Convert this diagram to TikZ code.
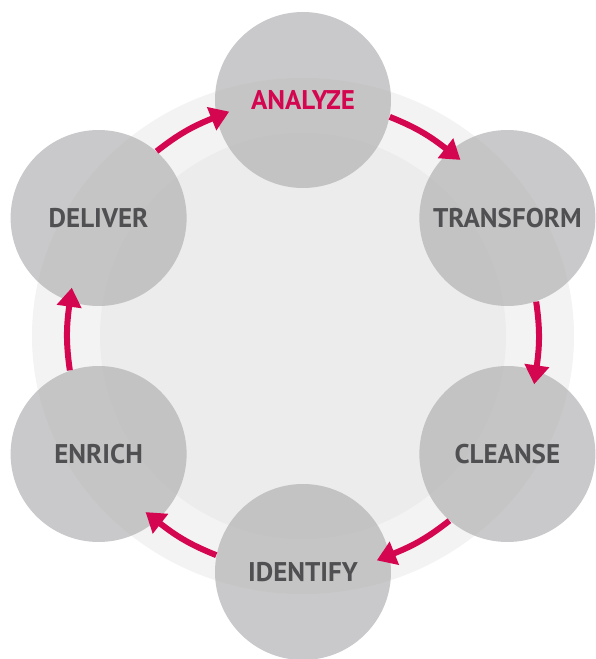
\documentclass[tikz,border=0pt]{standalone}
\usepackage{fontspec}
\setmainfont{PT Sans}
\usetikzlibrary{arrows.meta}

\definecolor{ringgray}{HTML}{F3F3F3}
\definecolor{discgray}{HTML}{ECECEC}
\definecolor{stagegray}{HTML}{B0B0B2}
\definecolor{labelgray}{HTML}{505053}
\definecolor{crimson}{HTML}{D4064F}

\tikzset{
    stage/.style={circle, minimum size=176pt*0.5, inner sep=0pt, fill=stagegray, fill opacity=0.68, text opacity=1, text=labelgray, font=\fontsize{13.5}{16}\selectfont\bfseries},
    flow/.style={crimson, line width=3pt, -{Triangle[width=12pt, length=9.5pt]}, bend left=8, shorten >=-7pt}
}

\begin{document}
\begin{tikzpicture}[x=0.5pt, y=0.5pt]
    \useasboundingbox (-303,-323) rectangle (292,336);

    \fill[ringgray] (0,0) ellipse [x radius=271, y radius=258];
    \fill[discgray] (0,0) circle [radius=203];

    \node[stage, text=crimson] (analyze) at (90:236) {ANALYZE};
    \node[stage] (transform) at (30:236) {TRANSFORM};
    \node[stage] (cleanse) at (-30:236) {CLEANSE};
    \node[stage] (identify) at (-90:236) {IDENTIFY};
    \node[stage] (enrich) at (-150:236) {ENRICH};
    \node[stage] (deliver) at (150:236) {DELIVER};

    \draw[flow] (deliver.49) to (analyze.191);
    \draw[flow] (analyze.-11) to (transform.131);
    \draw[flow] (transform.-71) to (cleanse.71);
    \draw[flow] (cleanse.-131) to (identify.11);
    \draw[flow] (identify.169) to (enrich.-49);
    \draw[flow] (enrich.109) to (deliver.-109);
\end{tikzpicture}
\end{document}
